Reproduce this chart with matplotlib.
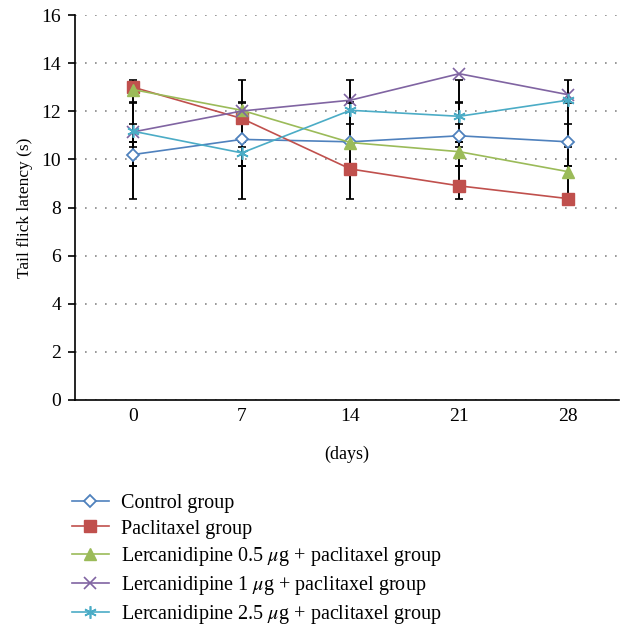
import matplotlib.pyplot as plt
import numpy as np

days = ['0', '7', '14', '21', '28']
control = [10.2, 10.83, 10.73, 10.98, 10.73]
paclitaxel = [13.0, 11.7, 9.6, 8.9, 8.37]
lerc_05 = [12.9, 12.04, 10.7, 10.32, 9.49]
lerc_1 = [11.14, 12.01, 12.46, 13.56, 12.69]
lerc_25 = [11.17, 10.27, 12.04, 11.79, 12.46]

# error bar ends (low, high)
err_low = [9.74, 8.36, 10.5, 9.74, 10.73]
err_high = [10.73, 13.28, 12.35, 12.4, 11.48]

labels = ['Control group', 'Paclitaxel group',
          'Lercanidipine 0.5 $\\mu$g + paclitaxel group',
          'Lercanidipine 1 $\\mu$g + paclitaxel group',
          'Lercanidipine 2.5 $\\mu$g + paclitaxel group']
series = [control, paclitaxel, lerc_05, lerc_1, lerc_25]
colors = ['#4F81BD', '#C0504D', '#9BBB59', '#8064A2', '#4BACC6']
markers = ['D', 's', '^', 'x', (6, 2, 0)]

plt.rcParams['font.family'] = ['Liberation Serif', 'DejaVu Serif']
plt.rcParams['mathtext.fontset'] = 'stix'

fig = plt.figure(figsize=(6.24, 6.25), dpi=100)
ax = fig.add_axes([0.12, 0.36, 0.872, 0.616])
x = np.arange(len(days))

for lo, hi in zip(err_low, err_high):
    lo = np.full(len(x), lo)
    hi = np.full(len(x), hi)
    ax.errorbar(x, (lo + hi) / 2, yerr=(hi - lo) / 2, fmt='none',
                ecolor='black', elinewidth=1.4, capsize=3, capthick=1.2, zorder=2)

for vals, lab, c, m in zip(series, labels, colors, markers):
    if m == 'D':
        ax.plot(x, vals, color=c, lw=1.2, marker=m, ms=6, mfc='white',
                mec=c, mew=1.3, label=lab, zorder=3)
    elif m in ('s', '^'):
        ax.plot(x, vals, color=c, lw=1.2, marker=m, ms=8, mfc=c,
                mec=c, label=lab, zorder=3)
    else:
        ax.plot(x, vals, color=c, lw=1.2, marker=m, ms=9, mfc=c,
                mec=c, mew=1.2, label=lab, zorder=3)

ax.set_xlim(-0.535, 4.47)
ax.set_ylim(0, 16)
ax.set_yticks(range(0, 17, 2))
ax.set_xticks(x)
ax.set_xticklabels(days)
ax.yaxis.grid(True, linestyle=(0, (1, 5)), color='#888888', lw=1.2)
ax.set_axisbelow(True)
for s in ['top', 'right']:
    ax.spines[s].set_visible(False)
ax.spines['left'].set_linewidth(1.2)
ax.spines['bottom'].set_linewidth(1.2)
ax.tick_params(axis='x', length=0, labelsize=14, pad=6)
ax.tick_params(axis='y', length=5, width=1.2, labelsize=14, pad=5)
ax.set_ylabel('Tail flick latency (s)', fontsize=12.5, labelpad=6)
ax.set_xlabel('(days)', fontsize=13, labelpad=15)

fig.legend(loc='upper left', bbox_to_anchor=(0.103, 0.222), frameon=False,
           fontsize=14.5, handlelength=1.8, labelspacing=0.3,
           handletextpad=0.6, borderaxespad=0)

plt.savefig('out.png', dpi=100)
